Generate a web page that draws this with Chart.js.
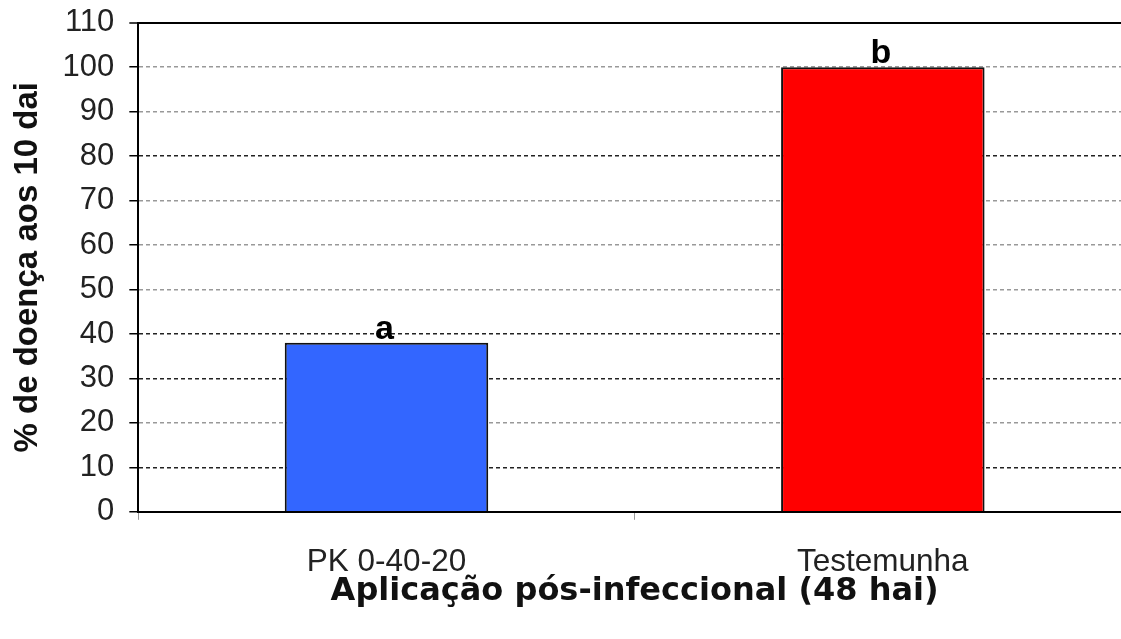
<!DOCTYPE html>
<html>
<head>
<meta charset="utf-8">
<script src="https://cdn.jsdelivr.net/npm/chart.js@4/dist/chart.umd.min.js"></script>
<style>
  html, body { margin: 0; padding: 0; background: #fff; overflow: hidden; }
  #wrap { width: 1131px; height: 639px; }
</style>
</head>
<body>
<div id="wrap"><canvas id="chart"></canvas></div>
<script>
const categories = ['PK 0-40-20', 'Testemunha'];
const diseasePct = [38, 100];
const letters = ['a', 'b'];
const barColors = ['#3366ff', '#ff0000'];
const darkGrid = [10, 30, 40, 80];

// letters of significance above the bars
const letterPlugin = {
  id: 'letters',
  afterDatasetsDraw(chart) {
    const ctx = chart.ctx;
    const meta = chart.getDatasetMeta(0);
    ctx.save();
    ctx.font = 'bold 34px "Liberation Sans", Arial, sans-serif';
    ctx.fillStyle = '#000';
    ctx.textAlign = 'center';
    ctx.textBaseline = 'alphabetic';
    meta.data.forEach((bar, i) => {
      ctx.fillText(letters[i], bar.x - 2, bar.y - 4);
    });
    ctx.restore();
  }
};

const ctx = document.getElementById('chart').getContext('2d');
const chart = new Chart(ctx, {
  type: 'bar',
  data: {
    labels: categories,
    datasets: [{
      data: diseasePct,
      backgroundColor: barColors,
      borderColor: '#111',
      borderWidth: 2,
      borderSkipped: 'bottom',
      barPercentage: 0.41,
      categoryPercentage: 1
    }]
  },
  options: {
    responsive: true,
    maintainAspectRatio: false,
    animation: false,
    layout: { padding: { top: 0, bottom: 28, left: 0, right: 0 } },
    plugins: {
      legend: { display: false },
      tooltip: { enabled: false }
    },
    scales: {
      x: {
        grid: {
          offset: true,
          drawOnChartArea: false,
          tickLength: 8,
          tickColor: '#999'
        },
        border: { color: '#000', width: 2 },
        ticks: {
          color: '#222',
          padding: 24,
          font: { family: '"Liberation Sans", Arial, sans-serif', size: 31.5 }
        },
        title: {
          display: true,
          text: 'Aplicação pós-infeccional (48 hai)',
          color: '#111',
          padding: { top: -33, bottom: 0 },
          font: { family: '"DejaVu Sans", sans-serif', size: 32, weight: 'bold' }
        }
      },
      y: {
        min: 0,
        max: 110,
        ticks: {
          stepSize: 10,
          color: '#222',
          padding: 15,
          font: { family: '"Liberation Sans", Arial, sans-serif', size: 31, lineHeight: 0.5 }
        },
        grid: {
          color: c => c.tick.value === 110 ? '#000' : (darkGrid.includes(c.tick.value) ? '#222' : '#999'),
          lineWidth: c => c.tick.value === 110 ? 2 : 1.5,
          tickLength: 9,
          tickColor: '#000',
          tickWidth: 1.5
        },
        border: {
          color: '#000',
          width: 2,
          dash: c => (c.tick && c.tick.value !== 110) ? [4, 3] : []
        },
        title: {
          display: true,
          text: '% de doença aos 10 dai',
          color: '#111',
          padding: { top: 8, bottom: 0 },
          font: { family: '"Liberation Sans", Arial, sans-serif', size: 33, weight: 'bold' }
        }
      }
    }
  },
  plugins: [letterPlugin]
});
</script>
</body>
</html>
